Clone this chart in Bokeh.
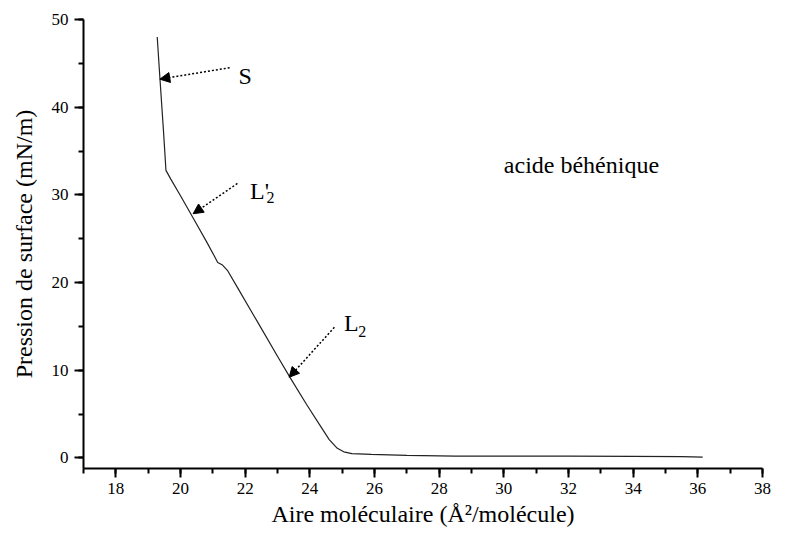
from bokeh.plotting import figure
from bokeh.models import ColumnDataSource, Arrow, NormalHead, SingleIntervalTicker, Range1d
from bokeh.core.properties import value
from bokeh.embed import file_html
from bokeh.resources import INLINE

# Isotherm data (molecular area in Å²/molecule, surface pressure in mN/m)
area = [19.28, 19.36, 19.47, 19.55, 19.7, 20.0, 20.4, 20.8, 21.05, 21.15, 21.3, 21.45,
        21.8, 22.4, 23.0, 23.4, 23.9, 24.3, 24.6, 24.85, 25.05, 25.3, 25.9, 27.0,
        28.5, 30.0, 32.0, 34.0, 35.5, 36.15]
pressure = [48.0, 43.5, 37.5, 32.8, 31.8, 29.9, 27.3, 24.7, 23.0, 22.3, 22.0, 21.4,
            19.2, 15.4, 11.6, 9.1, 6.1, 3.8, 2.1, 1.1, 0.7, 0.5, 0.4, 0.3,
            0.22, 0.2, 0.2, 0.18, 0.15, 0.1]

# Phase annotations (arrows)
arrow_x0 = [21.52, 21.76, 24.76]
arrow_y0 = [44.5, 31.3, 14.9]
arrow_x1 = [19.36, 20.39, 23.36]
arrow_y1 = [43.2, 27.85, 9.2]

# Annotation texts
label_text = ["S", "L'", "2", "L", "2", "acide béhénique"]
label_x = [21.79, 22.15, 22.66, 25.06, 25.50, 30.0]
label_y = [43.6, 30.5, 29.7, 15.35, 14.4, 33.45]
label_size = ["24px", "24px", "16px", "24px", "16px", "24px"]

x_label = "Aire moléculaire (Å²/molécule)"
y_label = "Pression de surface (mN/m)"

FONT = "'Liberation Serif', 'Times New Roman', serif"

p = figure(width=771, height=530, output_backend="svg", toolbar_location=None,
           x_range=Range1d(17, 38), y_range=Range1d(-1.2, 50),
           min_border_left=83, min_border_right=9, min_border_top=19, min_border_bottom=62)
p.outline_line_color = None
p.xgrid.visible = False
p.ygrid.visible = False
p.background_fill_color = "white"

p.line(area, pressure, line_color="#222222", line_width=1.2)

src_arrows = ColumnDataSource(dict(x0=arrow_x0, y0=arrow_y0, x1=arrow_x1, y1=arrow_y1))
p.add_layout(Arrow(source=src_arrows, x_start="x0", y_start="y0", x_end="x1", y_end="y1",
                   line_dash="2 2", line_width=1.5, line_color="black",
                   end=NormalHead(size=10, fill_color="black", line_color="black", line_width=1)))

src_labels = ColumnDataSource(dict(x=label_x, y=label_y, t=label_text, s=label_size))
p.text(x="x", y="y", text="t", source=src_labels, text_font=value(FONT),
       text_font_size="s", text_align="left", text_baseline="alphabetic", text_color="black")

p.xaxis.ticker = SingleIntervalTicker(interval=2, num_minor_ticks=2)
p.yaxis.ticker = SingleIntervalTicker(interval=10, num_minor_ticks=2)

for ax in (p.xaxis, p.yaxis):
    ax.axis_line_width = 2
    ax.axis_line_color = "black"
    ax.major_tick_line_width = 2
    ax.minor_tick_line_width = 2
    ax.major_tick_line_color = "black"
    ax.minor_tick_line_color = "black"
    ax.major_tick_in = 0
    ax.minor_tick_in = 0
    ax.major_tick_out = 9
    ax.minor_tick_out = 5
    ax.major_label_text_font = FONT
    ax.major_label_text_font_size = "17px"
    ax.major_label_text_color = "black"
    ax.axis_label_text_font = FONT
    ax.axis_label_text_font_size = "24px"
    ax.axis_label_text_font_style = "normal"
    ax.axis_label_text_color = "black"

p.xaxis.axis_label = x_label
p.yaxis.axis_label = y_label
p.xaxis.major_label_standoff = 5
p.yaxis.major_label_standoff = 6
p.xaxis.axis_label_standoff = 4
p.yaxis.axis_label_standoff = 12

open("out.html", "w").write(file_html(p, INLINE))
